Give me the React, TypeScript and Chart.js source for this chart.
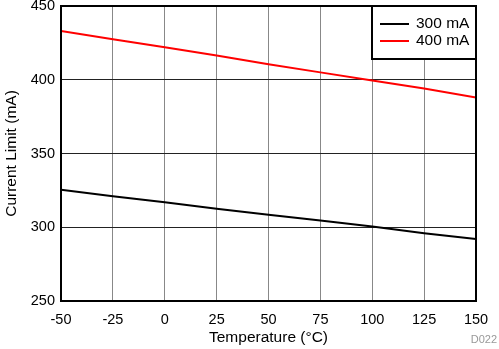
import React, { useEffect, useRef } from "react";
import { Chart, registerables } from "chart.js";

Chart.register(...registerables);

const temps = [-50, -25, 0, 25, 50, 75, 100, 125, 150];
const limit300 = [325.5, 321, 317, 312.5, 308.5, 304.5, 300.5, 296, 292];
const limit400 = [433, 427.5, 422, 416.5, 410.5, 405, 399.5, 394, 388];
const seriesNames = ["300 mA", "400 mA"];
const seriesColors = ["#000000", "#ff0000"];
const xTitle = "Temperature (°C)";
const yTitle = "Current Limit (mA)";
const figId = "D022";

const FONT = "'Liberation Sans', Arial, sans-serif";

const framePlugin = {
  id: "frame",
  afterDraw(chart: any) {
    const { ctx, chartArea } = chart;
    const { left, right, top, bottom } = chartArea;
    ctx.save();
    ctx.strokeStyle = "#000";
    ctx.lineWidth = 2;
    ctx.strokeRect(left, top, right - left, bottom - top);
    const w = 104;
    const h = 53;
    const lx = right - w;
    const ly = top;
    ctx.fillStyle = "#fff";
    ctx.fillRect(lx, ly, w, h);
    ctx.strokeRect(lx, ly, w, h);
    ctx.font = `15.5px ${FONT}`;
    ctx.textBaseline = "middle";
    ctx.textAlign = "left";
    seriesNames.forEach((name, i) => {
      const y = ly + 18 + i * 17;
      ctx.strokeStyle = seriesColors[i];
      ctx.lineWidth = 2;
      ctx.beginPath();
      ctx.moveTo(lx + 8, y);
      ctx.lineTo(lx + 37, y);
      ctx.stroke();
      ctx.fillStyle = "#000";
      ctx.fillText(name, lx + 44, y);
    });
    ctx.font = `11px ${FONT}`;
    ctx.fillStyle = "#999";
    ctx.textAlign = "right";
    ctx.fillText(figId, chart.width - 2, chart.height - 9);
    ctx.restore();
  },
};

export default function App() {
  const ref = useRef<HTMLCanvasElement>(null);
  useEffect(() => {
    if (!ref.current) return;
    const chart = new Chart(ref.current, {
      type: "line",
      data: {
        datasets: [
          {
            label: seriesNames[0],
            data: temps.map((t, i) => ({ x: t, y: limit300[i] })),
            borderColor: seriesColors[0],
            borderWidth: 2,
            pointRadius: 0,
            tension: 0,
          },
          {
            label: seriesNames[1],
            data: temps.map((t, i) => ({ x: t, y: limit400[i] })),
            borderColor: seriesColors[1],
            borderWidth: 2,
            pointRadius: 0,
            tension: 0,
          },
        ],
      },
      plugins: [framePlugin],
      options: {
        animation: false,
        responsive: false,
        layout: { padding: { top: 6, right: 23, bottom: 2, left: 0 } },
        plugins: { legend: { display: false }, tooltip: { enabled: false } },
        scales: {
          x: {
            type: "linear",
            min: -50,
            max: 150,
            ticks: { stepSize: 25, color: "#000", font: { size: 14.5, family: FONT }, padding: 10, maxRotation: 0 },
            grid: { color: "#888", lineWidth: 1, drawTicks: false },
            border: { display: false },
            title: { display: true, text: xTitle, color: "#000", font: { size: 15.5, family: FONT }, padding: 0 },
            afterFit(scale: any) {
              scale.height = 46;
              scale.paddingLeft = 0;
              scale.paddingRight = 0;
            },
          },
          y: {
            min: 250,
            max: 450,
            ticks: { stepSize: 50, color: "#000", font: { size: 14.5, family: FONT }, padding: 6 },
            grid: { color: "#222", lineWidth: 1, drawTicks: false },
            border: { display: false },
            title: { display: true, text: yTitle, color: "#000", font: { size: 15.5, family: FONT }, padding: 2 },
            afterFit(scale: any) {
              scale.width = 61;
              scale.paddingTop = 0;
              scale.paddingBottom = 0;
            },
          },
        },
      },
    } as any);
    return () => chart.destroy();
  }, []);
  return (
    <div style={{ position: "fixed", left: 0, top: 0, width: 499, height: 349, background: "#fff" }}>
      <canvas ref={ref} width={499} height={349} style={{ display: "block" }} />
    </div>
  );
}
